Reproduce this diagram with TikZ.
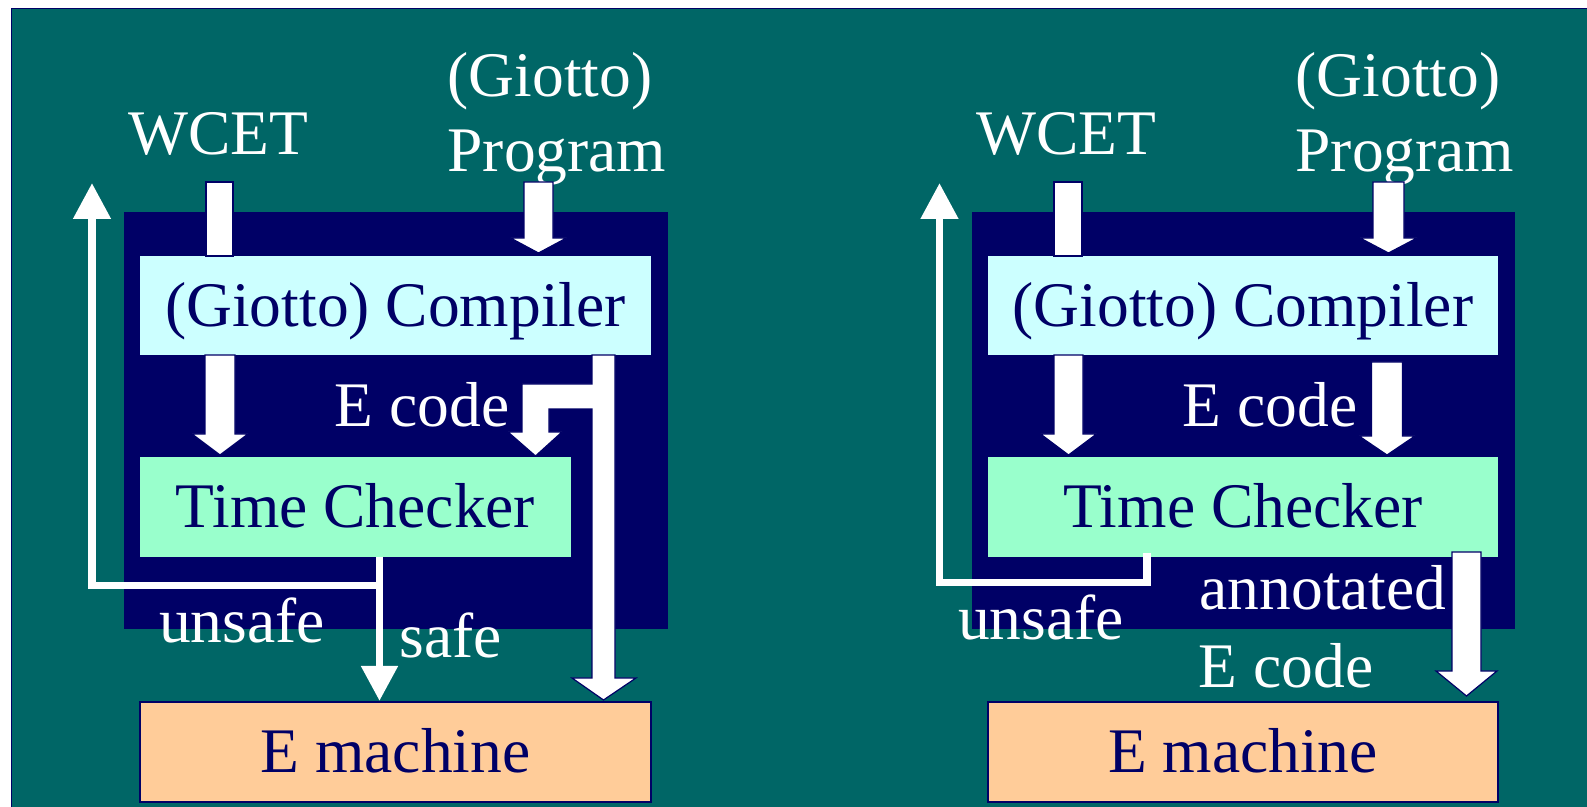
\documentclass[tikz,border=0pt]{standalone}
\usepackage{fontspec}
\setmainfont{Liberation Serif}
\usetikzlibrary{calc,arrows.meta}

\definecolor{bgteal}{HTML}{006666}
\definecolor{deepnavy}{HTML}{000066}
\definecolor{compcyan}{HTML}{CCFFFF}
\definecolor{checkmint}{HTML}{99FFCC}
\definecolor{machpeach}{HTML}{FFCC99}

\tikzset{
  box/.style={inner sep=0pt, outer sep=0pt, text=deepnavy, text height=21pt, text depth=0pt, anchor=center},
  lbl/.style={inner sep=0pt, outer sep=0pt, text=white, anchor=base},
  fat/.style={fill=white, draw=deepnavy, line width=0.6pt, line join=miter},
  thinarrow/.style={draw=white, line width=3.9pt, line join=miter,
    -{Triangle[length=17.5pt,width=17.5pt]}},
}

% fat down arrow: #1 centre x, #2 top point, #3 tip point,
% #4 half shaft width, #5 half head width, #6 head length (all in px)
\newcommand\fatdown[6]{%
  \draw[fat] let \p1=#2, \p2=#3 in
    ({(#1-#4)*0.5pt},\y1) -- ({(#1+#4)*0.5pt},\y1)
    -- ({(#1+#4)*0.5pt},{\y2+#6*0.5pt}) -- ({(#1+#5)*0.5pt},{\y2+#6*0.5pt})
    -- ({#1*0.5pt},\y2)
    -- ({(#1-#5)*0.5pt},{\y2+#6*0.5pt}) -- ({(#1-#4)*0.5pt},{\y2+#6*0.5pt})
    -- cycle;}

\begin{document}
\begin{tikzpicture}[x=0.5pt,y=-0.5pt,font=\fontsize{31.75}{38}\selectfont]
\useasboundingbox (0,0) rectangle (1587,807);
\fill[white] (0,0) rectangle (1587,807);
\draw[fill=bgteal, draw=deepnavy, line width=0.75pt] (11.5,8.5) rectangle (1620,830);

% ---------- left flow ----------
\fill[deepnavy] (124,212) rectangle (668,629);
\node[box, fill=compcyan, minimum width=255.5pt, minimum height=49.5pt] (compL) at (395.5,305.5) {(Giotto) Compiler};
\node[box, fill=checkmint, minimum width=215.5pt, minimum height=50pt] (tcL) at (355.5,507) {Time Checker};
\node[box, fill=machpeach, draw=deepnavy, line width=0.8pt, minimum width=255.5pt, minimum height=50pt] (emL) at (395.5,752) {E machine};

\node[lbl] (wcetL) at (218,155) {WCET};
\node[lbl] (gioL) at (550,97) {(Giotto)};
\node[lbl] (progL) at (557,172) {Program};
\node[lbl] (ecodeL) at (422,427) {E code};
\node[lbl] (unsafeL) at (242,643) {unsafe};
\node[lbl] (safeL) at (451,658) {safe};

\coordinate (wbL) at (233,182);
\draw[fat] (206,182) rectangle (wbL |- compL.north);
\fatdown{538.5}{(0,182)}{($(compL.north)+(0,-3)$)}{14.5}{28}{15}
\fatdown{220}{(compL.south)}{($(tcL.north)+(0,-2)$)}{15}{28}{21}

% E code: split arrow to the checker and to the machine
\draw[fat] (615,355) -- (615,678) -- (636,678) -- (603.5,700) -- (572,678)
  -- (592,678) -- (592,409) -- (549,409) -- (549,432) -- (562,432)
  -- (535.5,456) -- (508,432) -- (522,432) -- (522,384) -- (592,384)
  -- (592,355) -- cycle;

% safe / unsafe
\coordinate (safeX) at (379.5,0);
\coordinate (forkL) at (379.5,585.5);
\coordinate (cornerL) at (92,585.5);
\coordinate (upTipL) at (92,183);
\draw[thinarrow] (tcL.south -| safeX) -- ($(emL.north -| safeX)+(0,-1)$);
\draw[thinarrow, -{Triangle[length=18pt,width=18pt]}] (forkL) -- (cornerL) -- (upTipL);

% ---------- right flow ----------
\fill[deepnavy] (972,212) rectangle (1515,629);
\node[box, fill=compcyan, minimum width=255pt, minimum height=49.5pt] (compR) at (1243,305.5) {(Giotto) Compiler};
\node[box, fill=checkmint, minimum width=255pt, minimum height=50pt] (tcR) at (1243,507) {Time Checker};
\node[box, fill=machpeach, draw=deepnavy, line width=0.8pt, minimum width=255pt, minimum height=50pt] (emR) at (1243,752) {E machine};

\node[lbl] (wcetR) at (1066,155) {WCET};
\node[lbl] (gioR) at (1398,97) {(Giotto)};
\node[lbl] (progR) at (1405,172) {Program};
\node[lbl] (ecodeR) at (1270,427) {E code};
\node[lbl] (unsafeR) at (1041,640) {unsafe};
\node[lbl] (annotR) at (1323,610) {annotated};
\node[lbl] (ecodeRR) at (1286,688) {E code};

\coordinate (wbR) at (1082,182);
\draw[fat] (1054,182) rectangle (wbR |- compR.north);
\fatdown{1388.5}{(0,182)}{($(compR.north)+(0,-3)$)}{15.5}{28.5}{15}
\fatdown{1068.5}{(compR.south)}{($(tcR.north)+(0,-2)$)}{14.5}{28}{21}
\fatdown{1387}{(0,362)}{($(tcR.north)+(0,-2)$)}{15.5}{28}{19}
\fatdown{1466.5}{(0,552)}{($(emR.north)+(0,-6)$)}{14.5}{30.5}{25}

\coordinate (outR) at (1147,553);
\coordinate (bendR) at (1147,582.5);
\coordinate (cornerR) at (939.5,582.5);
\coordinate (upTipR) at (939.5,183);
\draw[thinarrow, -{Triangle[length=18pt,width=18pt]}] (outR) -- (bendR) -- (cornerR) -- (upTipR);
\end{tikzpicture}
\end{document}
